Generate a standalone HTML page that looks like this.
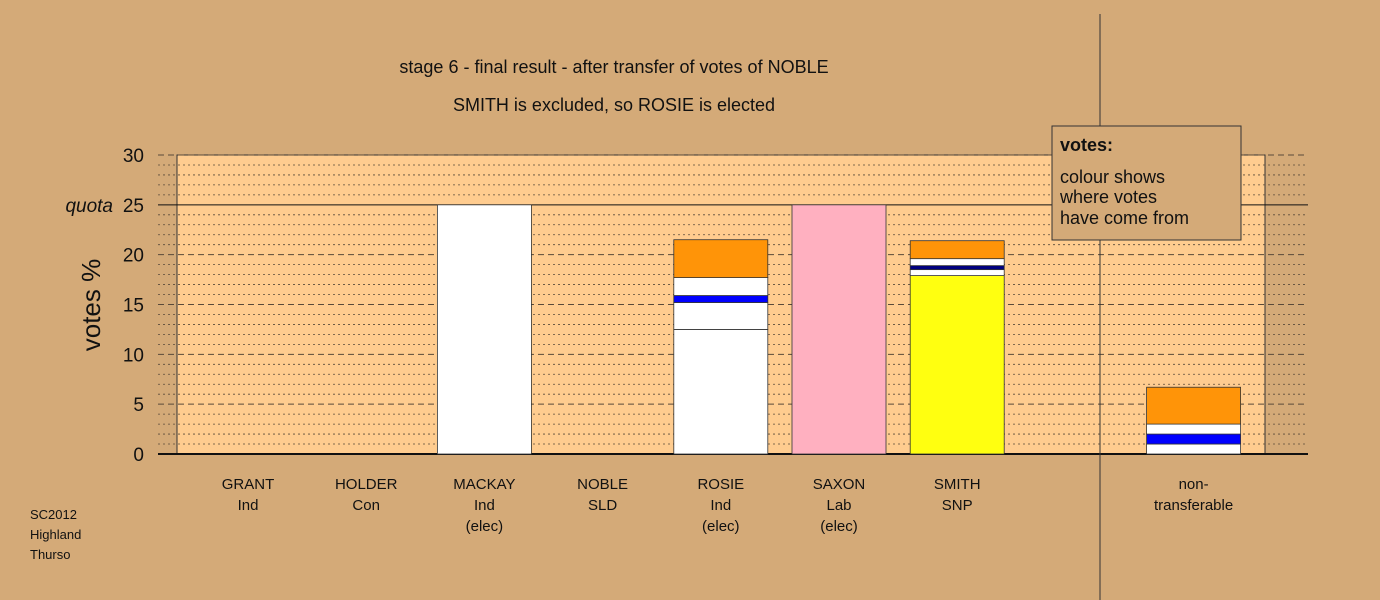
<!DOCTYPE html>
<html><head><meta charset="utf-8"><style>
body{margin:0;background:#d4aa78;}
svg{display:block;font-family:"Liberation Sans",sans-serif;}
</style></head><body>
<svg id="chart" width="1380" height="600" viewBox="0 0 1380 600">
<rect x="0" y="0" width="1380" height="600" fill="#d4aa78"/>
<rect x="177" y="155" width="1088" height="299" fill="#ffcc8f" stroke="#333" stroke-width="1"/>
<g id="grid"></g>
<line x1="1100" y1="14" x2="1100" y2="600" stroke="#333" stroke-width="1"/>
<g id="bars"></g>
<g id="yticks" font-size="19" fill="#111" text-anchor="end"></g>
<text x="113" y="212" font-size="19" font-style="italic" text-anchor="end" fill="#111">quota</text>
<text transform="translate(100,305) rotate(-90)" font-size="26" text-anchor="middle" fill="#111">votes %</text>
<g id="xlabels" font-size="15" fill="#111" text-anchor="middle"></g>
<text x="614" y="73" font-size="18" text-anchor="middle" fill="#111">stage 6 - final result - after transfer of votes of NOBLE</text>
<text x="614" y="111" font-size="18" text-anchor="middle" fill="#111">SMITH is excluded, so ROSIE is elected</text>
<g>
<rect x="1052" y="126" width="189" height="114" fill="#d4aa78" stroke="#333" stroke-width="1"/>
<text x="1060" y="151" font-size="18" font-weight="bold" fill="#111">votes:</text>
<text x="1060" y="183" font-size="18" fill="#111">colour shows</text>
<text x="1060" y="203" font-size="18" fill="#111">where votes</text>
<text x="1060" y="224" font-size="18" fill="#111">have come from</text>
</g>
<g font-size="13" fill="#111">
<text x="30" y="519">SC2012</text><text x="30" y="539">Highland</text><text x="30" y="559">Thurso</text>
</g>
</svg>
<script>
const categories=[["GRANT","Ind"],["HOLDER","Con"],["MACKAY","Ind","(elec)"],["NOBLE","SLD"],["ROSIE","Ind","(elec)"],["SAXON","Lab","(elec)"],["SMITH","SNP"],[],["non-","transferable"]];
const segValues=[[],[],[25],[],[12.5,2.7,0.7,1.8,3.8],[25],[17.9,0.6,0.4,0.7,1.8],[],[1.0,1.0,1.0,3.7]];
const segColors=[[],[],["#fff"],[],["#fff","#fff","#0000ff","#fff","#ff9408"],["#ffb0c0"],["#ffff10","#fff","#000080","#fff","#ff9408"],[],["#fff","#0000ff","#fff","#ff9408"]];
const yTicks=[0,5,10,15,20,25,30];
const ns="http://www.w3.org/2000/svg";
const y=v=>454-v*(299/30);
const xc=i=>248+i*118.2;
function mk(t,a,p){const e=document.createElementNS(ns,t);for(const k in a)e.setAttribute(k,a[k]);p.appendChild(e);return e;}
const grid=document.getElementById('grid');
for(let v=0;v<=30;v++){
  const l=mk('line',{x1:158,x2:1308,y1:y(v),y2:y(v),stroke:"#5a4a3a","stroke-width":v%5?0.8:1,"stroke-dasharray":v%5?"2,3":(v==25||v==0?"":"6,4")},grid);
  if(v==25||v==0)l.setAttribute('stroke','#111');
  if(v==0)l.setAttribute('stroke-width','2');
  
  
}
const bars=document.getElementById('bars');
segValues.forEach((segs,i)=>{let acc=0;segs.forEach((s,j)=>{
  const r=mk('rect',{x:xc(i)-47,width:94,y:y(acc+s),height:y(acc)-y(acc+s),fill:segColors[i][j],stroke:"#333","stroke-width":0.8},bars);
  
  
  acc+=s;});});
const yt=document.getElementById('yticks');
yTicks.forEach(v=>{const t=mk('text',{x:144,y:y(v)+7},yt);t.textContent=v;
  
  });
const xl=document.getElementById('xlabels');
categories.forEach((c,i)=>c.forEach((s,k)=>{const t=mk('text',{x:xc(i),y:489+k*21},xl);t.textContent=s;
  
  }));
</script>
</body></html>
